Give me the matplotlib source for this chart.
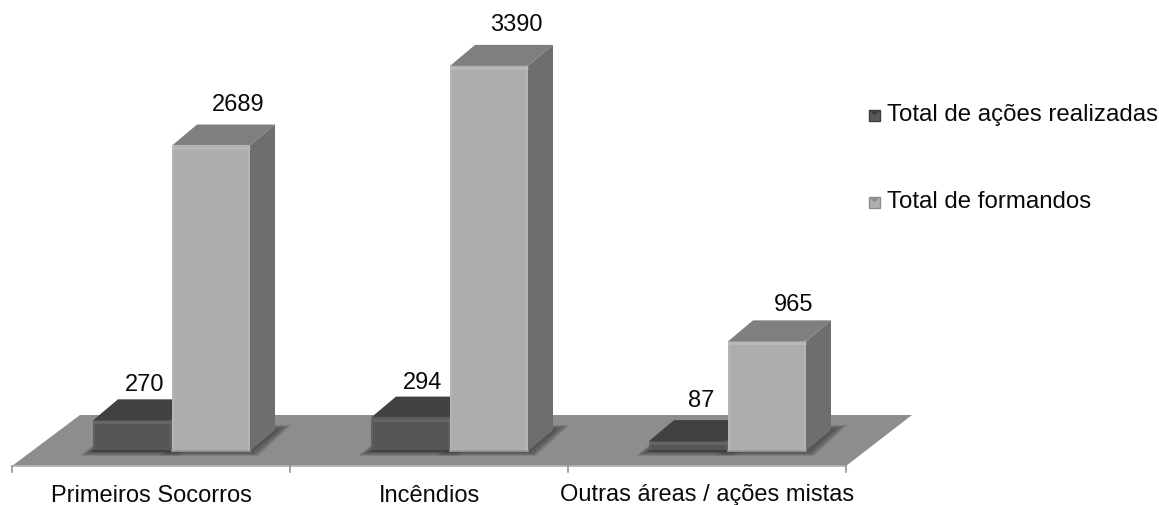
import matplotlib
matplotlib.use("Agg")
import matplotlib.pyplot as plt
from matplotlib.patches import Polygon, Rectangle

categories = ["Primeiros Socorros", "Incêndios", "Outras áreas / ações mistas"]
acoes = [270, 294, 87]
formandos = [2689, 3390, 965]
series_names = ["Total de ações realizadas", "Total de formandos"]
# pixel offsets of the value labels from each bar's top
label_lift_acoes = [35, 35, 40]
label_lift_formandos = [41, 41, 36]

plt.rcParams['font.family'] = ['Liberation Sans', 'DejaVu Sans']
W, H = 1159, 505
fig = plt.figure(figsize=(W/100, H/100), dpi=100)
ax = fig.add_axes([0, 0, 1, 1])
PX_X, PX_Y, X0, Y0 = 278.0, 0.1136, 12.0, 451.0
ax.set_xlim(-X0/PX_X, (W-X0)/PX_X)
ax.set_ylim(-(H-Y0)/PX_Y, Y0/PX_Y)
ax.axis('off')
FS = 17.0
TXT = '#0a0a0a'

def dx(px): return px/PX_X
def dy(px): return px/PX_Y

# floor
fl, fr, bl, br = dx(0), 3.0, dx(68), dx(900)
yf, yb = dy(-15), dy(36)
ax.add_patch(Polygon([(fl, yf), (bl, yb), (br, yb), (fr, yf)], fc='#8d8d8d', ec='none', zorder=1))
ax.plot([fl, fr], [yf, yf], color='#b0b0b0', lw=1.2, zorder=2)
for i in range(4):
    ax.plot([i, i], [yf, yf-dy(6)], color='#8a8a8a', lw=1.1, zorder=2)
for i, c in enumerate(categories):
    ax.text(i+0.5, dy(-44.5), c, ha='center', va='center', fontsize=FS, color=TXT)

DX, DY = dx(25), dy(21)

def shadow(x, w):
    for k in range(8, 0, -1):
        s = k*2.0
        ax.add_patch(Polygon([(x-dx(s*0.8), dy(-s*0.3)), (x+w+dx(s*0.5), dy(-s*0.3)),
                              (x+w+DX+dx(s), DY+dy(s*0.3)), (x+DX, DY+dy(s*0.3))],
                             fc='#484848', ec='none', alpha=0.2, zorder=3))

def bar3d(x, w, v, front, top, side, rim, edge, z):
    ax.add_patch(Rectangle((x, 0), w, v, fc=front, ec='none', zorder=z))
    ax.add_patch(Polygon([(x, v), (x+DX, v+DY), (x+w+DX, v+DY), (x+w, v)], fc=top, ec='none', zorder=z))
    ax.add_patch(Polygon([(x+w, 0), (x+w+DX, DY), (x+w+DX, v+DY), (x+w, v)], fc=side, ec='none', zorder=z))
    ax.plot([x, x+w], [v-dy(2), v-dy(2)], color=rim, lw=2.2, alpha=0.7, zorder=z+.1, solid_capstyle='butt')
    ax.plot([x+dx(1), x+dx(1)], [0, v], color=rim, lw=1.2, alpha=0.6, zorder=z+.1)
    ax.plot([x+w-dx(1), x+w-dx(1)], [0, v], color=rim, lw=1.2, alpha=0.6, zorder=z+.1)
    ax.plot([x, x+w], [dy(.5), dy(.5)], color=edge, lw=1.2, zorder=z+.1)

for i in range(3):
    shadow(i + dx(81), dx(79))
    shadow(i + dx(160), dx(78))
for i in range(3):
    x1, w1 = i + dx(81), dx(79)
    x2, w2 = i + dx(160), dx(78)
    bar3d(x1, w1, acoes[i], '#565656', '#414141', '#3a3a3a', '#6a6a6a', '#3c3c3c', 4)
    bar3d(x2, w2, formandos[i], '#adadad', '#7f7f7f', '#6e6e6e', '#bdbdbd', '#9a9a9a', 5)
    ax.text(x1+dx(52), acoes[i]+dy(label_lift_acoes[i]), str(acoes[i]), ha='center', va='center', fontsize=FS, color=TXT, zorder=8)
    ax.text(x2+dx(66), formandos[i]+dy(label_lift_formandos[i]), str(formandos[i]), ha='center', va='center', fontsize=FS, color=TXT, zorder=8)

# legend
for name, col, top, py in zip(series_names, ['#5a5a5a', '#b0b0b0'], ['#3e3e3e', '#8e8e8e'], [115, 202]):
    lx, ly, s = dx(869-X0), dy(Y0-py-6), 11
    ax.add_patch(Rectangle((lx, ly), dx(s), dy(s), fc=col, ec=top, lw=1, zorder=6))
    ax.add_patch(Polygon([(lx, ly+dy(s)), (lx+dx(s), ly+dy(s)), (lx+dx(s/2), ly+dy(s/2))], fc=top, ec='none', zorder=7))
    ax.text(dx(887-X0), dy(Y0-py), name, ha='left', va='center', fontsize=17.25, color=TXT)

fig.savefig('out.png', dpi=100, facecolor='white')
